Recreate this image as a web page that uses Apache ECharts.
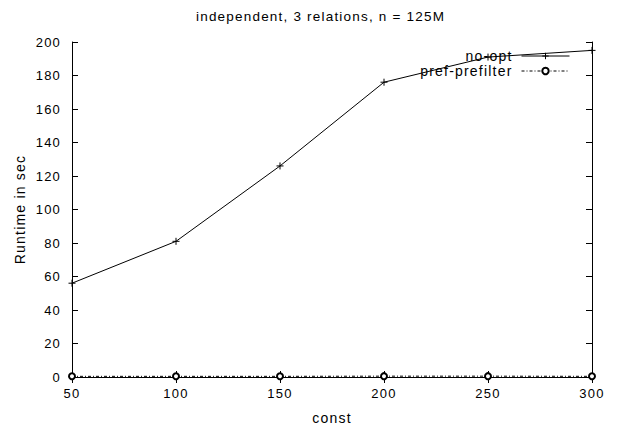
<!DOCTYPE html>
<html>
<head>
<meta charset="utf-8">
<script src="https://cdn.jsdelivr.net/npm/echarts@6/dist/echarts.min.js"></script>
<style>
  html, body { margin: 0; padding: 0; background: #fff; }
  #chart { width: 623px; height: 437px; }
  /* slightly loose glyph spacing, like the bitmap font renderer */
  #chart text { letter-spacing: 1.2px; }
</style>
</head>
<body>
<div id="chart"></div>
<script>
// Runtime measurements per const setting
const constValues = [50, 100, 150, 200, 250, 300];
const noOpt = [56, 81, 126, 176, 191, 195];
const prefPrefilter = [0.4, 0.4, 0.4, 0.5, 0.5, 0.4];
const yTicks = { min: 0, max: 200, interval: 20 };
const xTicks = { min: 50, max: 300, interval: 50 };

const FONT = 'Liberation Sans, Arial, sans-serif';
const plusSymbol = 'path://M0,5L10,5M5,0L5,10';

const chart = echarts.init(document.getElementById('chart'), null, { renderer: 'svg' });

const baseAxisLine = { show: true, lineStyle: { color: '#000', width: 1 } };
const inTicks = { show: true, inside: true, length: 6, lineStyle: { color: '#000' } };

chart.setOption({
  animation: false,
  backgroundColor: '#fff',
  title: {
    text: 'independent, 3 relations, n = 125M',
    left: 191,
    top: 4,
    textStyle: { fontFamily: FONT, fontSize: 13.5, fontWeight: 'normal', color: '#000' }
  },
  legend: {
    orient: 'vertical',
    right: 48,
    top: 44,
    align: 'right',
    itemWidth: 48,
    itemHeight: 8,
    itemGap: 1,
    lineStyle: { width: 1 },
    itemStyle: { borderWidth: 1 },
    textStyle: { fontFamily: FONT, fontSize: 14, color: '#000', padding: [0, 4, 0, 0] },
    data: ['no-opt', 'pref-prefilter']
  },
  grid: { left: 72, right: 31, top: 42, bottom: 60, containLabel: false },
  xAxis: [
    {
      type: 'value',
      min: xTicks.min, max: xTicks.max, interval: xTicks.interval,
      name: 'const',
      nameLocation: 'middle',
      nameGap: 34,
      nameTextStyle: { fontFamily: FONT, fontSize: 14, color: '#000' },
      axisLine: baseAxisLine,
      axisTick: inTicks,
      axisLabel: { fontFamily: FONT, fontSize: 13, color: '#000', margin: 10 },
      splitLine: { show: false }
    },
    {
      type: 'value', position: 'top',
      min: xTicks.min, max: xTicks.max, interval: xTicks.interval,
      axisLine: baseAxisLine,
      axisTick: inTicks,
      axisLabel: { show: false },
      splitLine: { show: false }
    }
  ],
  yAxis: [
    {
      type: 'value',
      min: yTicks.min, max: yTicks.max, interval: yTicks.interval,
      name: 'Runtime in sec',
      nameLocation: 'middle',
      nameGap: 45,
      nameTextStyle: { fontFamily: FONT, fontSize: 14, color: '#000' },
      axisLine: baseAxisLine,
      axisTick: inTicks,
      axisLabel: { fontFamily: FONT, fontSize: 13, color: '#000', margin: 11 },
      splitLine: { show: false }
    },
    {
      type: 'value', position: 'right',
      min: yTicks.min, max: yTicks.max, interval: yTicks.interval,
      axisLine: baseAxisLine,
      axisTick: inTicks,
      axisLabel: { show: false },
      splitLine: { show: false }
    }
  ],
  series: [
    {
      name: 'no-opt',
      type: 'line',
      data: constValues.map((c, i) => [c, noOpt[i]]),
      symbol: plusSymbol,
      symbolSize: 7,
      itemStyle: { color: 'none', borderColor: '#000', borderWidth: 1 },
      lineStyle: { color: '#000', width: 1 },
      z: 3
    },
    {
      name: 'pref-prefilter',
      type: 'line',
      data: constValues.map((c, i) => [c, prefPrefilter[i]]),
      symbol: 'emptyCircle',
      symbolSize: 6,
      itemStyle: { color: '#000', borderColor: '#000', borderWidth: 1 },
      lineStyle: { color: '#000', width: 1, type: [3, 2, 1, 2] },
      z: 2
    }
  ]
});
</script>
</body>
</html>
